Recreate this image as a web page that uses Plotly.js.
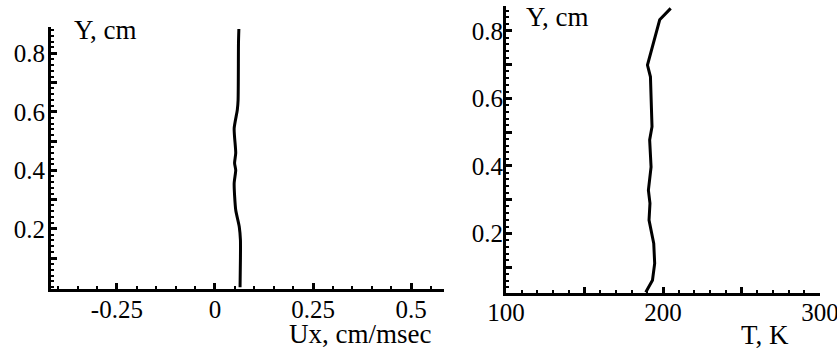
<!DOCTYPE html>
<html>
<head>
<meta charset="utf-8">
<script src="https://cdn.plot.ly/plotly-3.0.1.min.js"></script>
<style>
html,body{margin:0;padding:0;background:#fff;font-family:'Liberation Serif',serif;}
#chart{position:absolute;left:0;top:0;width:837px;height:353px;}
#dbg{position:absolute;left:300px;top:90px;width:110px;color:#fff;font:10px monospace;white-space:pre-wrap;word-break:break-all;pointer-events:none;}
.modebar-container{visibility:hidden !important;}
</style>
</head>
<body>
<div id="chart"></div>
<div id="dbg"></div>
<script>
window.onerror = function (m) { document.getElementById('dbg').textContent += 'ERR ' + m + '\n'; };

// Left panel: velocity profile
const uxY = [0.0, 0.10, 0.161, 0.207, 0.264, 0.355, 0.40, 0.425, 0.459, 0.543, 0.606, 0.64, 0.834, 0.883];
const uxX = [0.064, 0.065, 0.065, 0.062, 0.053, 0.049, 0.053, 0.050, 0.053, 0.049, 0.057, 0.059, 0.060, 0.061];
// Right panel: temperature profile
const tY = [0.025, 0.061, 0.111, 0.170, 0.239, 0.289, 0.328, 0.397, 0.477, 0.516, 0.664, 0.699, 0.833, 0.867];
const tX = [189.0, 193.3, 194.7, 194.1, 191.1, 191.7, 190.7, 192.4, 191.5, 193.0, 192.0, 190.1, 197.9, 204.9];
// Tick labels
const yTickVals = [0.1, 0.2, 0.3, 0.4, 0.5, 0.6, 0.7, 0.8];
const yTickText = ['', '0.2', '', '0.4', '', '0.6', '', '0.8'];
const uxTickVals = [-0.25, 0, 0.25, 0.5];
const uxTickText = ['-0.25', '0', '0.25', '0.5'];
const tTickVals = [100, 150, 200, 250, 300];
const tTickText = ['100', '', '200', '', '300'];

const W = 837, H = 353;
function mkFont(s) { return {family: 'Liberation Serif', size: s || 25, color: '#000'}; }

function axisCommon() {
  return {
    showline: true, linewidth: 3, linecolor: '#000',
    ticks: 'inside', ticklen: 6, tickwidth: 3, tickcolor: '#000',
    showgrid: false, zeroline: false, tickfont: mkFont(25),
    tickmode: 'array', fixedrange: true, ticklabeloverflow: 'allow'
  };
}

function makeTraces() {
  return [
    {x: uxX, y: uxY, xaxis: 'x', yaxis: 'y', mode: 'lines',
     line: {color: '#000', width: 3, shape: 'spline', smoothing: 0.6}, hoverinfo: 'skip'},
    {x: tX, y: tY, xaxis: 'x2', yaxis: 'y2', mode: 'lines',
     line: {color: '#000', width: 3}, hoverinfo: 'skip'}
  ];
}

function makeLayout() {
  return {
    width: W, height: H,
    margin: {l: 0, r: 0, t: 0, b: 0},
    paper_bgcolor: 'rgba(0,0,0,0)', plot_bgcolor: 'rgba(0,0,0,0)',
    showlegend: false,
    font: mkFont(25),
    xaxis: Object.assign(axisCommon(), {
      domain: [51 / W, 444 / W], range: [-0.418, 0.584], anchor: 'y',
      tickvals: uxTickVals, ticktext: uxTickText, ticklabelstandoff: -4,
      minor: {tickmode: 'linear', tick0: 0, dtick: 0.05, ticks: 'inside', ticklen: 3, tickwidth: 1.5, tickcolor: '#000'}
    }),
    yaxis: Object.assign(axisCommon(), {
      domain: [1 - 289 / H, 1 - 27 / H], range: [-0.006, 0.89], anchor: 'x',
      tickvals: yTickVals, ticktext: yTickText, ticklabelstandoff: -2,
      minor: {tickmode: 'linear', tick0: 0, dtick: 0.02, ticks: 'inside', ticklen: 3, tickwidth: 1.5, tickcolor: '#000'}
    }),
    xaxis2: Object.assign(axisCommon(), {
      domain: [506 / W, 820 / W], range: [100, 300], anchor: 'y2',
      tickvals: tTickVals, ticktext: tTickText, ticklabelstandoff: -5,
      minor: {tickmode: 'linear', tick0: 100, dtick: 10, ticks: 'inside', ticklen: 3, tickwidth: 1.5, tickcolor: '#000'}
    }),
    yaxis2: Object.assign(axisCommon(), {
      domain: [1 - 293 / H, 1 - 6 / H], range: [0.023, 0.874], anchor: 'x2',
      tickvals: yTickVals, ticktext: yTickText, ticklabelstandoff: -5,
      minor: {tickmode: 'linear', tick0: 0, dtick: 0.02, ticks: 'inside', ticklen: 3, tickwidth: 1.5, tickcolor: '#000'}
    }),
    annotations: [
      {text: 'Y, cm', xref: 'paper', yref: 'paper', x: 72 / W, y: 1 - 30 / H, xanchor: 'left', yanchor: 'middle', showarrow: false, font: mkFont(27)},
      {text: 'Y, cm', xref: 'paper', yref: 'paper', x: 524 / W, y: 1 - 17 / H, xanchor: 'left', yanchor: 'middle', showarrow: false, font: mkFont(27)},
      {text: 'Ux, cm/msec', xref: 'paper', yref: 'paper', x: 360 / W, y: 1 - 334 / H, xanchor: 'center', yanchor: 'middle', showarrow: false, font: mkFont(27)},
      {text: 'T, K', xref: 'paper', yref: 'paper', x: 765 / W, y: 1 - 335 / H, xanchor: 'center', yanchor: 'middle', showarrow: false, font: mkFont(27)}
    ]
  };
}

function touch(gd) {
  const t = gd.querySelector('.xtick text');
  const d = document.getElementById('dbg');
  d.textContent = 'v=' + Plotly.version + ' ' + (t ? getComputedStyle(t).fontFamily + ' ' + getComputedStyle(t).fontSize : '');
  gd.querySelectorAll('text').forEach(function (el) {
    el.style.fontFamily = "'Liberation Serif', 'Times New Roman', serif";
  });
  return gd;
}

function draw() {
  return Plotly.newPlot('chart', makeTraces(), makeLayout()).then(touch);
}

draw().then(function () {
  if (document.fonts && document.fonts.load) {
    return Promise.all([
      document.fonts.load('25px "Liberation Serif"', '0.8 Y, cm'),
      document.fonts.load('27px "Liberation Serif"', 'Ux, cm/msec T, K')
    ]).then(function () { return document.fonts.ready; }).then(draw);
  }
}).catch(function (e) { document.getElementById('dbg').textContent += 'CATCH ' + e; });
</script>
</body>
</html>
